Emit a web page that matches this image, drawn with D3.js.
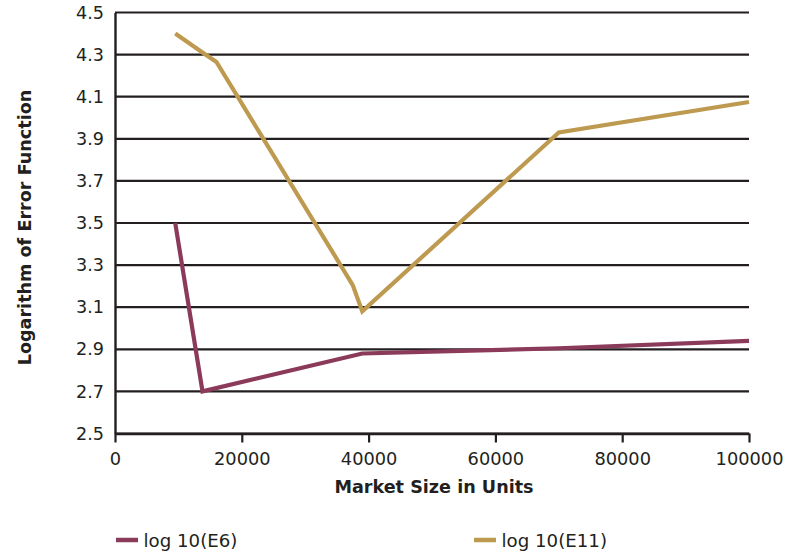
<!DOCTYPE html>
<html>
<head>
<meta charset="utf-8">
<script src="https://cdn.jsdelivr.net/npm/d3@7/dist/d3.min.js"></script>
<style>
  html, body { margin: 0; padding: 0; background: #fff; }
  svg text { font-family: "DejaVu Sans", sans-serif; fill: #231f20; }
</style>
</head>
<body>
<svg id="chart" width="794" height="553"></svg>
<script>
// Market size (units) and log10 of the error function for each model
const e6Size   = [9500, 13800, 39000, 70000, 100000];
const e6Log    = [3.50, 2.70, 2.88, 2.905, 2.94];
const e11Size  = [9500, 13800, 16000, 37500, 39000, 70000, 100000];
const e11Log   = [4.40, 4.31, 4.265, 3.205, 3.08, 3.93, 4.075];

const xTicks = [0, 20000, 40000, 60000, 80000, 100000];
const yTicks = [2.5, 2.7, 2.9, 3.1, 3.3, 3.5, 3.7, 3.9, 4.1, 4.3, 4.5];

const seriesNames  = ["log 10(E6)", "log 10(E11)"];
const seriesColors = ["#8c3a5a", "#be9a50"];

const svg = d3.select("#chart");
const plotLeft = 115, plotRight = 749, plotTop = 12.5, plotBottom = 433.5;

const x = d3.scaleLinear().domain([0, 100000]).range([plotLeft, plotRight]);
const y = d3.scaleLinear().domain([2.5, 4.5]).range([plotBottom, plotTop]);

// horizontal grid lines
svg.append("g")
  .selectAll("line")
  .data(yTicks)
  .join("line")
  .attr("x1", plotLeft).attr("x2", plotRight)
  .attr("y1", d => y(d)).attr("y2", d => y(d))
  .attr("stroke", "#231f20")
  .attr("stroke-width", 2.2);

// y axis
const yAxis = svg.append("g")
  .attr("transform", `translate(${plotLeft},0)`)
  .call(d3.axisLeft(y).tickValues(yTicks).tickFormat(d3.format(".1f")).tickSize(0).tickPadding(11));
yAxis.select(".domain").attr("stroke", "#231f20").attr("stroke-width", 2.4);
yAxis.selectAll("text").attr("font-size", 17.6).style("font-family", "'DejaVu Sans', sans-serif").attr("fill", "#231f20");

// x axis
const xAxis = svg.append("g")
  .attr("transform", `translate(0,${plotBottom})`)
  .call(d3.axisBottom(x).tickValues(xTicks).tickFormat(d3.format("d")).tickSizeInner(9).tickSizeOuter(0).tickPadding(9.5));
xAxis.select(".domain").attr("stroke", "#231f20").attr("stroke-width", 2.4);
xAxis.selectAll(".tick line").attr("stroke", "#231f20").attr("stroke-width", 2.2);
xAxis.selectAll("text").attr("font-size", 17.8).style("font-family", "'DejaVu Sans', sans-serif").attr("fill", "#231f20");

// axis titles
svg.append("text")
  .attr("x", 434).attr("y", 493)
  .attr("text-anchor", "middle")
  .attr("font-size", 17.6).attr("font-weight", "bold")
  .text("Market Size in Units");

svg.append("text")
  .attr("transform", "translate(31,227.5) rotate(-90)")
  .attr("text-anchor", "middle")
  .attr("font-size", 17.6).attr("font-weight", "bold")
  .text("Logarithm of Error Function");

// series lines
const line = d3.line().x(d => x(d[0])).y(d => y(d[1]));
const series = [
  d3.zip(e6Size, e6Log),
  d3.zip(e11Size, e11Log)
];
series.forEach((pts, i) => {
  svg.append("path")
    .datum(pts)
    .attr("d", line)
    .attr("fill", "none")
    .attr("stroke", seriesColors[i])
    .attr("stroke-width", 4.2)
    .attr("stroke-linejoin", "miter");
});

// legend
const legendX = [116, 474];
seriesNames.forEach((name, i) => {
  const g = svg.append("g").attr("transform", `translate(${legendX[i]},540)`);
  g.append("line").attr("x1", 0).attr("x2", 22).attr("y1", 0).attr("y2", 0)
    .attr("stroke", seriesColors[i]).attr("stroke-width", 4.5);
  g.append("text").attr("x", 27.5).attr("y", 6.5)
    .attr("font-size", 18.2).text(name);
});
</script>
</body>
</html>
